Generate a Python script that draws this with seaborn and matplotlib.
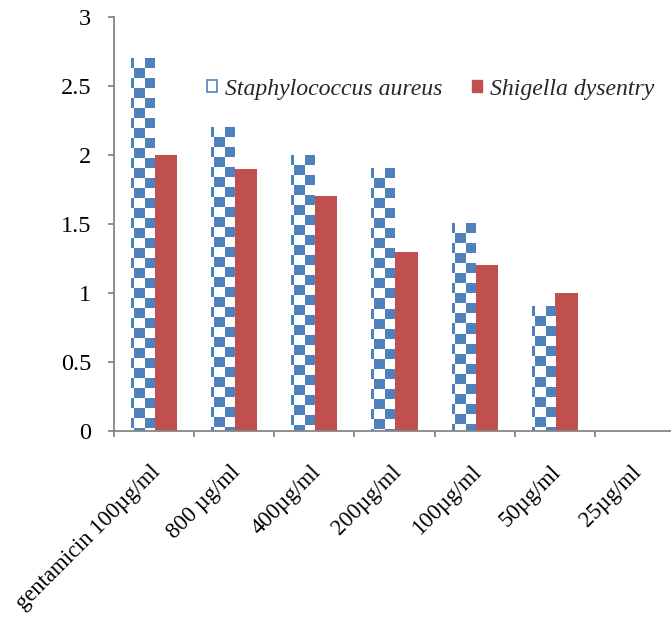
import numpy as np
import pandas as pd
import matplotlib
matplotlib.use("Agg")
import matplotlib.pyplot as plt
import matplotlib.patches as mpatches
import matplotlib.transforms as mtransforms
import seaborn as sns

# Concentrations tested and zone measurements for each organism
categories = ["gentamicin 100µg/ml", "800 µg/ml", "400µg/ml", "200µg/ml",
              "100µg/ml", "50µg/ml", "25µg/ml"]
staph_values = [2.7, 2.2, 2.0, 1.9, 1.5, 0.9, 0.0]
shigella_values = [2.0, 1.9, 1.7, 1.3, 1.2, 1.0, 0.0]
series_names = ["Staphylococcus aureus", "Shigella dysentry"]
y_ticks = [0, 0.5, 1, 1.5, 2, 2.5, 3]
y_tick_labels = ["0", "0.5", "1", "1.5", "2", "2.5", "3"]

BLUE = "#4F81BD"
RED = "#C0504D"
AXIS_GREY = "#868686"

df = pd.DataFrame({
    "category": categories * 2,
    "value": staph_values + shigella_values,
    "organism": [series_names[0]] * len(categories) + [series_names[1]] * len(categories),
})

sns.set_theme(style="white")
plt.rcParams["font.family"] = ["Liberation Serif", "DejaVu Serif"]

W, H, DPI = 671, 617, 100
fig = plt.figure(figsize=(W / DPI, H / DPI), dpi=DPI)
ax_left, ax_right, ax_bottom, ax_top = 114, 675, 431, 17
ax = fig.add_axes([ax_left / W, 1 - ax_bottom / H,
                   (ax_right - ax_left) / W, (ax_bottom - ax_top) / H])

sns.barplot(data=df, x="category", y="value", hue="organism", order=categories,
            hue_order=series_names, palette=[BLUE, RED], width=0.575,
            linewidth=0, saturation=1, ax=ax, legend=False)

ax.set_xlim(-0.5, len(categories) - 0.5)
ax.set_ylim(0, 3)

# Checkerboard fill for the first series
fig.canvas.draw()
cell = 10
for bar in ax.containers[0]:
    h = bar.get_height()
    if h <= 0:
        continue
    x0 = bar.get_x()
    x1 = x0 + bar.get_width()
    (px0, py0) = ax.transData.transform((x0, 0))
    (px1, py1) = ax.transData.transform((x1, h))
    ncols = max(int(round(px1 - px0)), 1)
    nrows = max(int(round(py1 - py0)), 1)
    rows = np.arange(nrows)[:, None] // cell
    cols = (ncols - 1 - np.arange(ncols))[None, :] // cell
    mask = (rows + cols) % 2 == 0
    img = np.ones((nrows, ncols, 3))
    img[mask] = matplotlib.colors.to_rgb(BLUE)
    bar.set_facecolor("white")
    ax.imshow(img, extent=(x0, x1, 0, h), origin="upper", aspect="auto",
              interpolation="nearest", zorder=bar.get_zorder() + 0.1)

ax.set_xlim(-0.5, len(categories) - 0.5)
ax.set_ylim(0, 3)

# Axes styling
for side in ["top", "right"]:
    ax.spines[side].set_visible(False)
for side in ["left", "bottom"]:
    ax.spines[side].set_color(AXIS_GREY)
    ax.spines[side].set_linewidth(1.3)

ax.set_yticks(y_ticks)
ax.set_yticklabels(y_tick_labels)
ax.set_xticks(np.arange(len(categories)))
ax.set_xticklabels(categories, rotation=45, ha="right", rotation_mode="anchor")
ax.set_xticks(np.arange(len(categories)) - 0.5, minor=True)
ax.tick_params(axis="x", which="major", length=0, labelsize=16.3, pad=22,
               colors="black")
ax.tick_params(axis="x", which="minor", length=4.5, width=1.3, color=AXIS_GREY,
               direction="out", bottom=True)
ax.tick_params(axis="y", length=4.5, width=1.3, color=AXIS_GREY, labelsize=17.5,
               pad=12, left=True, labelcolor="black")
shift = mtransforms.ScaledTranslation(-4 / DPI, 0, fig.dpi_scale_trans)
for lbl in ax.get_xticklabels():
    lbl.set_transform(lbl.get_transform() + shift)
ax.set_xlabel("")
ax.set_ylabel("")
ax.grid(False)

# Legend
handles = [
    mpatches.Patch(facecolor="white", edgecolor=BLUE, linewidth=1.2,
                   label=series_names[0]),
    mpatches.Patch(facecolor=RED, edgecolor=RED, label=series_names[1]),
]
fig.legend(handles=handles, loc="center left",
           bbox_to_anchor=(186 / W, 1 - 89 / H), ncol=2, frameon=False,
           prop={"style": "italic", "size": 17.1}, handlelength=0.42,
           handleheight=0.42, handletextpad=0.32, columnspacing=1.25)

fig.savefig("out.png", dpi=DPI)
